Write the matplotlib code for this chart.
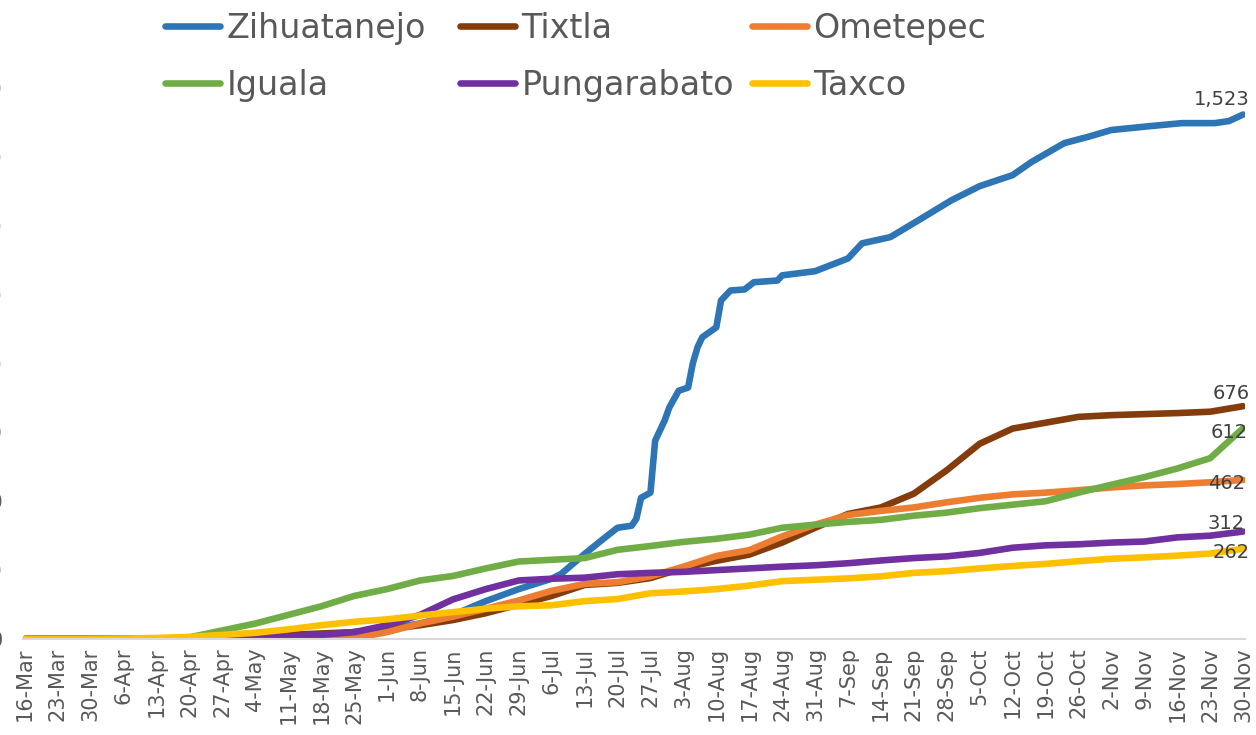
import numpy as np
import matplotlib
matplotlib.use('Agg')
import matplotlib.pyplot as plt

# weekly tick labels, 16-Mar to 30-Nov
week_labels = ['16-Mar', '23-Mar', '30-Mar', '6-Apr', '13-Apr', '20-Apr', '27-Apr',
               '4-May', '11-May', '18-May', '25-May', '1-Jun', '8-Jun', '15-Jun',
               '22-Jun', '29-Jun', '6-Jul', '13-Jul', '20-Jul', '27-Jul', '3-Aug',
               '10-Aug', '17-Aug', '24-Aug', '31-Aug', '7-Sep', '14-Sep', '21-Sep',
               '28-Sep', '5-Oct', '12-Oct', '19-Oct', '26-Oct', '2-Nov', '9-Nov',
               '16-Nov', '23-Nov', '30-Nov']
week_days = np.arange(0, 7 * len(week_labels), 7)

# cumulative cases read at each weekly date
tixtla = [0, 0, 0, 0, 1, 3, 5, 8, 12, 16, 20, 28, 40, 55, 75, 100, 125, 157, 163,
          177, 206, 227, 245, 280, 323, 363, 382, 422, 490, 567, 611, 628, 645, 650,
          653, 656, 660, 676]
ometepec = [0, 0, 0, 0, 0, 0, 0, 0, 0, 0, 2, 20, 45, 65, 88, 112, 140, 160, 165,
            182, 210, 241, 258, 298, 332, 360, 372, 382, 397, 410, 420, 425, 432,
            440, 446, 450, 455, 462]
iguala = [0, 0, 0, 0, 1, 5, 25, 45, 70, 95, 125, 145, 170, 183, 205, 225, 230, 235,
          259, 270, 282, 291, 303, 323, 332, 340, 346, 358, 367, 380, 390, 400, 425,
          448, 470, 495, 525, 612]
pungarabato = [0, 0, 0, 0, 0, 0, 1, 3, 8, 12, 20, 40, 70, 115, 145, 170, 175, 178,
               188, 192, 195, 200, 205, 210, 214, 220, 228, 235, 240, 250, 265, 272,
               275, 280, 283, 295, 300, 312]
taxco = [0, 0, 0, 1, 3, 6, 12, 18, 28, 40, 50, 57, 68, 78, 88, 95, 98, 110, 116,
         133, 138, 145, 155, 168, 172, 176, 182, 192, 197, 205, 212, 218, 226, 233,
         237, 242, 248, 262]

# Zihuatanejo read at a finer set of days (sharp jump late July)
zihua_days = [0, 42, 56, 63, 70, 77, 84, 91, 98, 105, 112, 114, 119, 123, 126, 129,
              130, 131, 133, 134, 136, 137, 139, 141, 142, 143, 144, 147, 148, 150,
              153, 155, 160, 161, 168, 175, 178, 184, 190, 197, 203, 210, 214, 221,
              226, 231, 239, 246, 253, 256, 259]
zihuatanejo = [0, 0, 5, 12, 20, 30, 45, 70, 110, 145, 175, 189, 247, 291, 323, 329,
               349, 410, 425, 576, 634, 672, 721, 730, 800, 847, 876, 905, 983, 1012,
               1015, 1036, 1041, 1056, 1068, 1105, 1149, 1167, 1216, 1274, 1315, 1347,
               1385, 1440, 1458, 1478, 1489, 1498, 1498, 1504, 1523]

colors = {'Zihuatanejo': '#2e75b6', 'Tixtla': '#843c0c', 'Ometepec': '#ed7d31',
          'Iguala': '#70ad47', 'Pungarabato': '#7030a0', 'Taxco': '#ffc000'}

fig = plt.figure(figsize=(12.56, 7.35), dpi=100)
ax = fig.add_axes([22.6 / 1256, (735 - 639) / 735, 1222.8 / 1256, 551 / 735])

lw = 4.75
lines = {}
lines['Zihuatanejo'], = ax.plot(zihua_days, zihuatanejo, color=colors['Zihuatanejo'], lw=lw, solid_capstyle='round')
lines['Tixtla'], = ax.plot(week_days, tixtla, color=colors['Tixtla'], lw=lw, solid_capstyle='round')
lines['Ometepec'], = ax.plot(week_days, ometepec, color=colors['Ometepec'], lw=lw, solid_capstyle='round')
lines['Iguala'], = ax.plot(week_days, iguala, color=colors['Iguala'], lw=lw, solid_capstyle='round')
lines['Pungarabato'], = ax.plot(week_days, pungarabato, color=colors['Pungarabato'], lw=lw, solid_capstyle='round')
lines['Taxco'], = ax.plot(week_days, taxco, color=colors['Taxco'], lw=lw, solid_capstyle='round')

# end labels
ends = [(zihua_days[-1], zihuatanejo[-1], 7, 15),
        (week_days[-1], tixtla[-1], 7, 13),
        (week_days[-1], iguala[-1], 5, -4),
        (week_days[-1], ometepec[-1], 2, -4),
        (week_days[-1], pungarabato[-1], 2, 8),
        (week_days[-1], taxco[-1], 7, -4)]
for xd, yv, dx, dy in ends:
    ax.annotate('{:,}'.format(yv), (xd, yv), xytext=(dx * 0.72, dy * 0.72),
                textcoords='offset points', ha='right', va='center',
                fontsize=14, color='#404040', annotation_clip=False)

ax.set_xlim(-0.5, 259.5)
ax.set_ylim(0, 1600)
ax.set_xticks(week_days)
ax.set_xticklabels(week_labels, rotation=90, fontsize=15, color='#595959')
ax.set_yticks(np.arange(0, 1601, 200))
ax.set_yticklabels(['{:,}'.format(v) for v in range(0, 1601, 200)], fontsize=15, color='#595959')
ax.tick_params(axis='both', length=0)
ax.tick_params(axis='x', pad=6)
ax.tick_params(axis='y', pad=14.5)
for s in ['top', 'right', 'left']:
    ax.spines[s].set_visible(False)
ax.spines['bottom'].set_color('#d9d9d9')
ax.spines['bottom'].set_linewidth(1.5)

# legend, one column at a time so the columns sit where the reference has them
legend_cols = [(['Zihuatanejo', 'Iguala'], 148),
               (['Tixtla', 'Pungarabato'], 443),
               (['Ometepec', 'Taxco'], 735)]
for names, xpix in legend_cols:
    fig.legend([lines[k] for k in names], names, loc='upper left',
               bbox_to_anchor=(xpix / 1256, 1 + 5 / 735), frameon=False, fontsize=24,
               handlelength=1.65, handletextpad=0.2, labelspacing=0.72,
               borderpad=0, labelcolor='#595959')

fig.savefig('out.png', dpi=100)
